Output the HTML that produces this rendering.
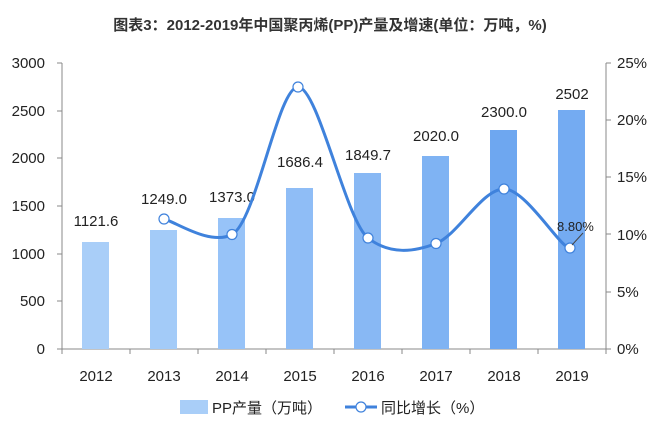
<!DOCTYPE html>
<html><head><meta charset="utf-8"><style>
body{margin:0;background:#fff;}
svg{display:block;font-family:"Liberation Sans","Noto Sans CJK SC",sans-serif;}
</style></head><body>
<svg width="661" height="426" viewBox="0 0 661 426">
<text x="330" y="30" text-anchor="middle" font-size="15" font-weight="bold" fill="#333">图表3：2012-2019年中国聚丙烯(PP)产量及增速(单位：万吨，%)</text>
<g font-size="15" fill="#222">
<text x="45" y="68" text-anchor="end">3000</text>
<text x="45" y="116" text-anchor="end">2500</text>
<text x="45" y="163" text-anchor="end">2000</text>
<text x="45" y="211" text-anchor="end">1500</text>
<text x="45" y="259" text-anchor="end">1000</text>
<text x="45" y="306" text-anchor="end">500</text>
<text x="45" y="354" text-anchor="end">0</text>
<text x="617" y="68">25%</text>
<text x="617" y="125">20%</text>
<text x="617" y="182">15%</text>
<text x="617" y="240">10%</text>
<text x="617" y="297">5%</text>
<text x="617" y="354">0%</text>
</g>
<g stroke="#888" stroke-width="1" fill="none">
<path d="M62 63V349M57 63H62M57 111H62M57 158H62M57 206H62M57 254H62M57 301H62M57 349H62"/>
<path d="M606 63V349M606 63H611M606 120H611M606 177H611M606 234H611M606 292H611M606 349H611"/>
<path d="M62 349H606M62 349v5M130 349v5M198 349v5M266 349v5M334 349v5M402 349v5M470 349v5M538 349v5M606 349v5"/>
</g>
<g>
<rect x="82" y="242" width="27" height="107" fill="#a9cef8"/>
<rect x="150" y="230" width="27" height="119" fill="#a3cbf8"/>
<rect x="218" y="218" width="27" height="131" fill="#97c3f8"/>
<rect x="286" y="188" width="27" height="161" fill="#8fbdf6"/>
<rect x="354" y="173" width="27" height="176" fill="#88b8f4"/>
<rect x="422" y="156" width="27" height="193" fill="#7fb3f3"/>
<rect x="490" y="130" width="27" height="219" fill="#6ea7f0"/>
<rect x="558" y="110" width="27" height="239" fill="#74abf2"/>
</g>
<g font-size="15" fill="#222" text-anchor="middle">
<text x="96" y="226">1121.6</text>
<text x="164" y="204">1249.0</text>
<text x="232" y="202">1373.0</text>
<text x="300" y="167">1686.4</text>
<text x="368" y="160">1849.7</text>
<text x="436" y="141">2020.0</text>
<text x="504" y="117">2300.0</text>
<text x="572" y="99">2502</text>
<text x="96" y="381">2012</text><text x="164" y="381">2013</text><text x="232" y="381">2014</text><text x="300" y="381">2015</text>
<text x="368" y="381">2016</text><text x="436" y="381">2017</text><text x="504" y="381">2018</text><text x="572" y="381">2019</text>
</g>
<path d="M164 219 C175 221.5,210 246,232 234.5 C256 222,278 87,298 87 C318 87,346 221,368 238 C390 255,414 252,436 243.5 C458 235,482 189,504 189 C526 189,560 248,570 248" stroke="#3f82dc" stroke-width="3" fill="none"/>
<g fill="#fff" stroke="#3f82dc" stroke-width="1.2">
<circle cx="164" cy="219" r="5"/><circle cx="232" cy="234.5" r="5"/><circle cx="298" cy="87" r="5"/>
<circle cx="368" cy="238" r="5"/><circle cx="436" cy="243.5" r="5"/><circle cx="504" cy="189" r="5"/><circle cx="570" cy="248" r="5"/>
</g>
<path d="M572 245 L583 233" stroke="#444" stroke-width="1"/>
<text x="557" y="231" font-size="13" fill="#222">8.80%</text>
<rect x="180" y="400" width="28" height="14" fill="#a9cef8"/>
<text x="212" y="413" font-size="15" fill="#222">PP产量（万吨）</text>
<path d="M345 407H377" stroke="#3f82dc" stroke-width="3"/>
<circle cx="361" cy="407" r="5" fill="#fff" stroke="#3f82dc" stroke-width="1.2"/>
<text x="381" y="413" font-size="15" fill="#222">同比增长（%）</text>
</svg>
</body></html>
